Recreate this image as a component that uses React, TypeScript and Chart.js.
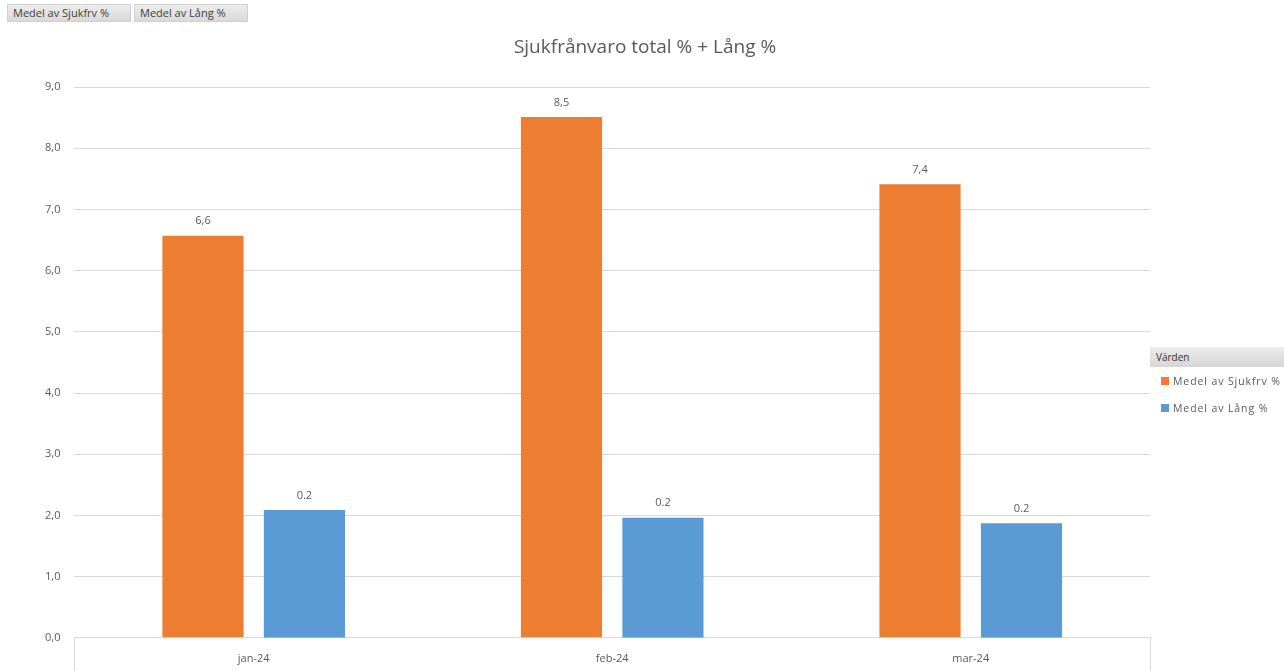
import React, { useEffect, useRef } from "react";
import { Chart, registerables } from "chart.js";

Chart.register(...registerables);

const categories = ["jan-24", "feb-24", "mar-24"];
const sjukfrvValues = [6.57, 8.51, 7.41];
const langValues = [0.209, 0.196, 0.187];
const yTicks = [0, 1, 2, 3, 4, 5, 6, 7, 8, 9];
const seriesNames = ["Medel av Sjukfrv %", "Medel av Lång %"];
const seriesColors = ["#ED7D31", "#5B9BD5"];
const titleText = "Sjukfrånvaro total % + Lång %";
const legendTitle = "Värden";

const FONT = "'Open Sans', 'DejaVu Sans', sans-serif";
const TEXT = "#595959";

const valueLabels = {
  id: "valueLabels",
  afterDatasetsDraw(chart: any) {
    const ctx = chart.ctx;
    ctx.save();
    ctx.font = `11px ${FONT}`;
    ctx.fillStyle = TEXT;
    ctx.textAlign = "center";
    ctx.textBaseline = "bottom";
    chart.data.datasets.forEach((ds: any, di: number) => {
      const meta = chart.getDatasetMeta(di);
      meta.data.forEach((bar: any, i: number) => {
        const v = ds.data[i] as number;
        const txt = di === 0 ? v.toFixed(1).replace(".", ",") : v.toFixed(1);
        ctx.fillText(txt, bar.x, bar.y - 9);
      });
    });
    ctx.restore();
  },
};

const canvasTitle = {
  id: "canvasTitle",
  afterDraw(chart: any) {
    const ctx = chart.ctx;
    ctx.save();
    ctx.font = `19px ${FONT}`;
    ctx.fillStyle = TEXT;
    ctx.textAlign = "center";
    ctx.textBaseline = "middle";
    ctx.fillText(titleText, chart.width / 2 + 3, 48);
    ctx.restore();
  },
};

const frameLines = {
  id: "frameLines",
  afterDraw(chart: any) {
    const { ctx, chartArea } = chart;
    ctx.save();
    ctx.strokeStyle = "#D9D9D9";
    ctx.lineWidth = 1;
    ctx.beginPath();
    ctx.moveTo(Math.round(chartArea.left) + 0.5, chartArea.bottom);
    ctx.lineTo(Math.round(chartArea.left) + 0.5, chart.height);
    ctx.moveTo(Math.round(chartArea.right) + 0.5, chartArea.bottom);
    ctx.lineTo(Math.round(chartArea.right) + 0.5, chart.height);
    ctx.stroke();
    ctx.restore();
  },
};

export default function App() {
  const ref = useRef<HTMLCanvasElement | null>(null);

  useEffect(() => {
    document.body.style.margin = "0";
    const chart = new Chart(ref.current as HTMLCanvasElement, {
      type: "bar",
      data: {
        labels: categories,
        datasets: [
          {
            label: seriesNames[0],
            data: sjukfrvValues,
            backgroundColor: seriesColors[0],
            yAxisID: "y",
            categoryPercentage: 0.566,
            barPercentage: 0.8,
          },
          {
            label: seriesNames[1],
            data: langValues,
            backgroundColor: seriesColors[1],
            yAxisID: "y2",
            categoryPercentage: 0.566,
            barPercentage: 0.8,
          },
        ],
      },
      options: {
        responsive: false,
        animation: false,
        layout: { padding: { left: 31, right: 134, top: 87, bottom: -8 } },
        plugins: {
          legend: { display: false },
          tooltip: { enabled: false },
          title: { display: false },
        },
        scales: {
          x: {
            grid: { display: false, drawTicks: false },
            border: { color: "#D9D9D9" },
            ticks: { color: TEXT, font: { family: FONT, size: 11 }, padding: 14 },
          },
          y: {
            min: 0,
            max: 9,
            afterBuildTicks(axis: any) {
              axis.ticks = yTicks.map((v) => ({ value: v }));
            },
            grid: { color: "#D9D9D9", drawTicks: false },
            border: { display: false },
            ticks: {
              color: TEXT,
              font: { family: FONT, size: 11 },
              padding: 14,
              callback: (v: any) => Number(v).toFixed(1).replace(".", ","),
            },
          },
          y2: {
            display: false,
            min: 0,
            max: 0.9,
          },
        },
      },
      plugins: [valueLabels, frameLines, canvasTitle],
    } as any);
    return () => chart.destroy();
  }, []);

  const btn: React.CSSProperties = {
    position: "absolute",
    top: 4,
    height: 18,
    background: "linear-gradient(#ececec, #d9d9d9)",
    border: "1px solid #d0d0d0",
    boxSizing: "border-box",
    fontFamily: FONT,
    fontSize: 11,
    color: "#404040",
    lineHeight: "16px",
    paddingLeft: 5,
    whiteSpace: "nowrap",
  };

  return (
    <div style={{ position: "absolute", left: 0, top: 0, width: 1284, height: 671, background: "#fff", overflow: "hidden" }}>
      <canvas ref={ref} width={1284} height={671} style={{ position: "absolute", left: 0, top: 0 }} />
      <div style={{ ...btn, left: 7, width: 124 }}>{seriesNames[0]}</div>
      <div style={{ ...btn, left: 134, width: 114 }}>{seriesNames[1]}</div>
      <div
        style={{
          position: "absolute",
          left: 1150,
          top: 347,
          width: 134,
          height: 20,
          background: "linear-gradient(#ececec, #d6d6d6)",
          fontFamily: FONT,
          fontSize: 10,
          color: "#333",
          lineHeight: "20px",
          paddingLeft: 6,
          boxSizing: "border-box",
        }}
      >
        {legendTitle}
      </div>
      {seriesNames.map((n, i) => (
        <div
          key={n}
          style={{
            position: "absolute",
            left: 1161,
            top: 373 + i * 27,
            fontFamily: FONT,
            fontSize: 10.5,
            color: TEXT,
            whiteSpace: "nowrap",
            display: "flex",
            alignItems: "center",
            lineHeight: "16px",
            letterSpacing: 0.9,
          }}
        >
          <span style={{ display: "inline-block", width: 8, height: 8, background: seriesColors[i], marginRight: 4 }} />
          {n}
        </div>
      ))}
    </div>
  );
}
